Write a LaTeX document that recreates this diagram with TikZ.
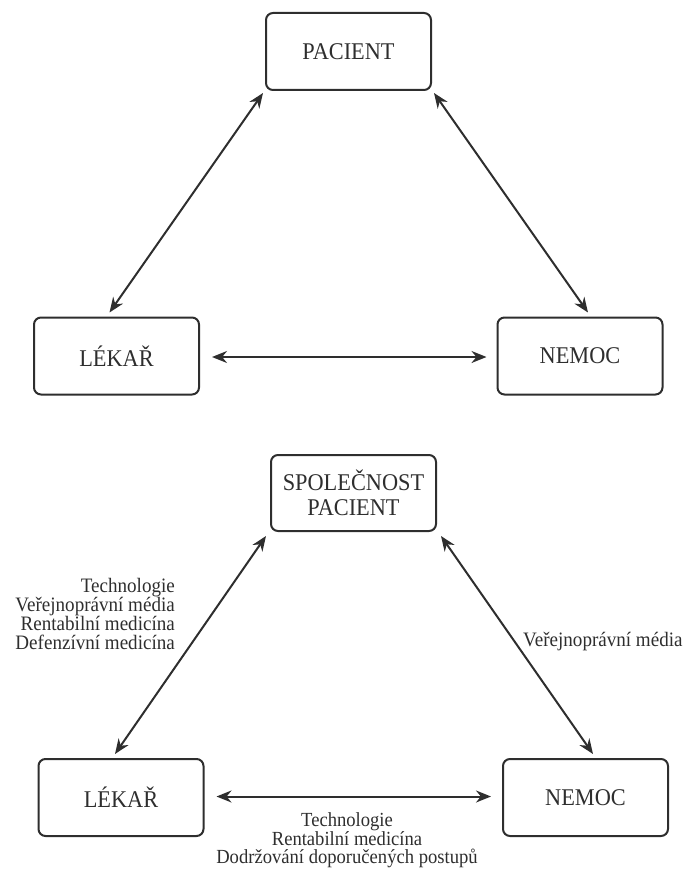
\documentclass[tikz,border=0pt]{standalone}
\usepackage{fontspec}
\setmainfont[FakeStretch=0.93]{Liberation Serif}
\usetikzlibrary{arrows.meta}
\definecolor{ink}{HTML}{2E2E2E}

\begin{document}
\begin{tikzpicture}[
    x=1pt, y=-1pt,
    box/.style={rectangle, draw=ink, line width=2pt, rounded corners=7pt, minimum width=165pt, minimum height=77pt, align=center, text=ink, font=\fontsize{24}{25}\selectfont},
    lbl/.style={text=ink, inner sep=0pt, font=\fontsize{20.5}{19}\selectfont},
    arrow/.style={{Stealth[length=15pt,width=12pt]}-{Stealth[length=15pt,width=12pt]}, line width=2pt, draw=ink}
]
\useasboundingbox (0,0) rectangle (686,869);

% upper triangle
\node[box] (pac) at (348.5,51.5) {PACIENT};
\node[box] (lek) at (116.5,356) {LÉKAŘ};
\node[box] (nem) at (580,356) {NEMOC};

\draw[arrow] ([shift={(-2,2)}]pac.south west) -- ([shift={(-7,-4)}]lek.north);
\draw[arrow] ([shift={(2,2)}]pac.south east) -- ([shift={(8,-4)}]nem.north);
\draw[arrow] ([shift={(12,1)}]lek.east) -- ([shift={(-10,1)}]nem.west);

% lower triangle
\node[box, minimum height=76pt] (spol) at (353.5,493) {SPOLEČNOST\\PACIENT};
\node[box] (lek2) at (121,797.5) {LÉKAŘ};
\node[box] (nem2) at (585.5,797.5) {NEMOC};

\draw[arrow] ([shift={(-4,4)}]spol.south west) -- ([shift={(-6,-4)}]lek2.north);
\draw[arrow] ([shift={(4,4)}]spol.south east) -- ([shift={(7.5,-4)}]nem2.north);
\draw[arrow] ([shift={(12,-1)}]lek2.east) -- ([shift={(-11,-1)}]nem2.west);

\node[lbl, anchor=east, align=right] (infl-left) at (175,613.5) {Technologie\\Veřejnoprávní média\\Rentabilní medicína\\Defenzívní medicína};
\node[lbl, anchor=west] (infl-right) at (523,642) {Veřejnoprávní média};
\node[lbl, align=center, font=\fontsize{20}{17.5}\selectfont] (infl-bottom) at (347,840) {Technologie\\Rentabilní medicína\\Dodržování doporučených postupů};

\end{tikzpicture}
\end{document}
